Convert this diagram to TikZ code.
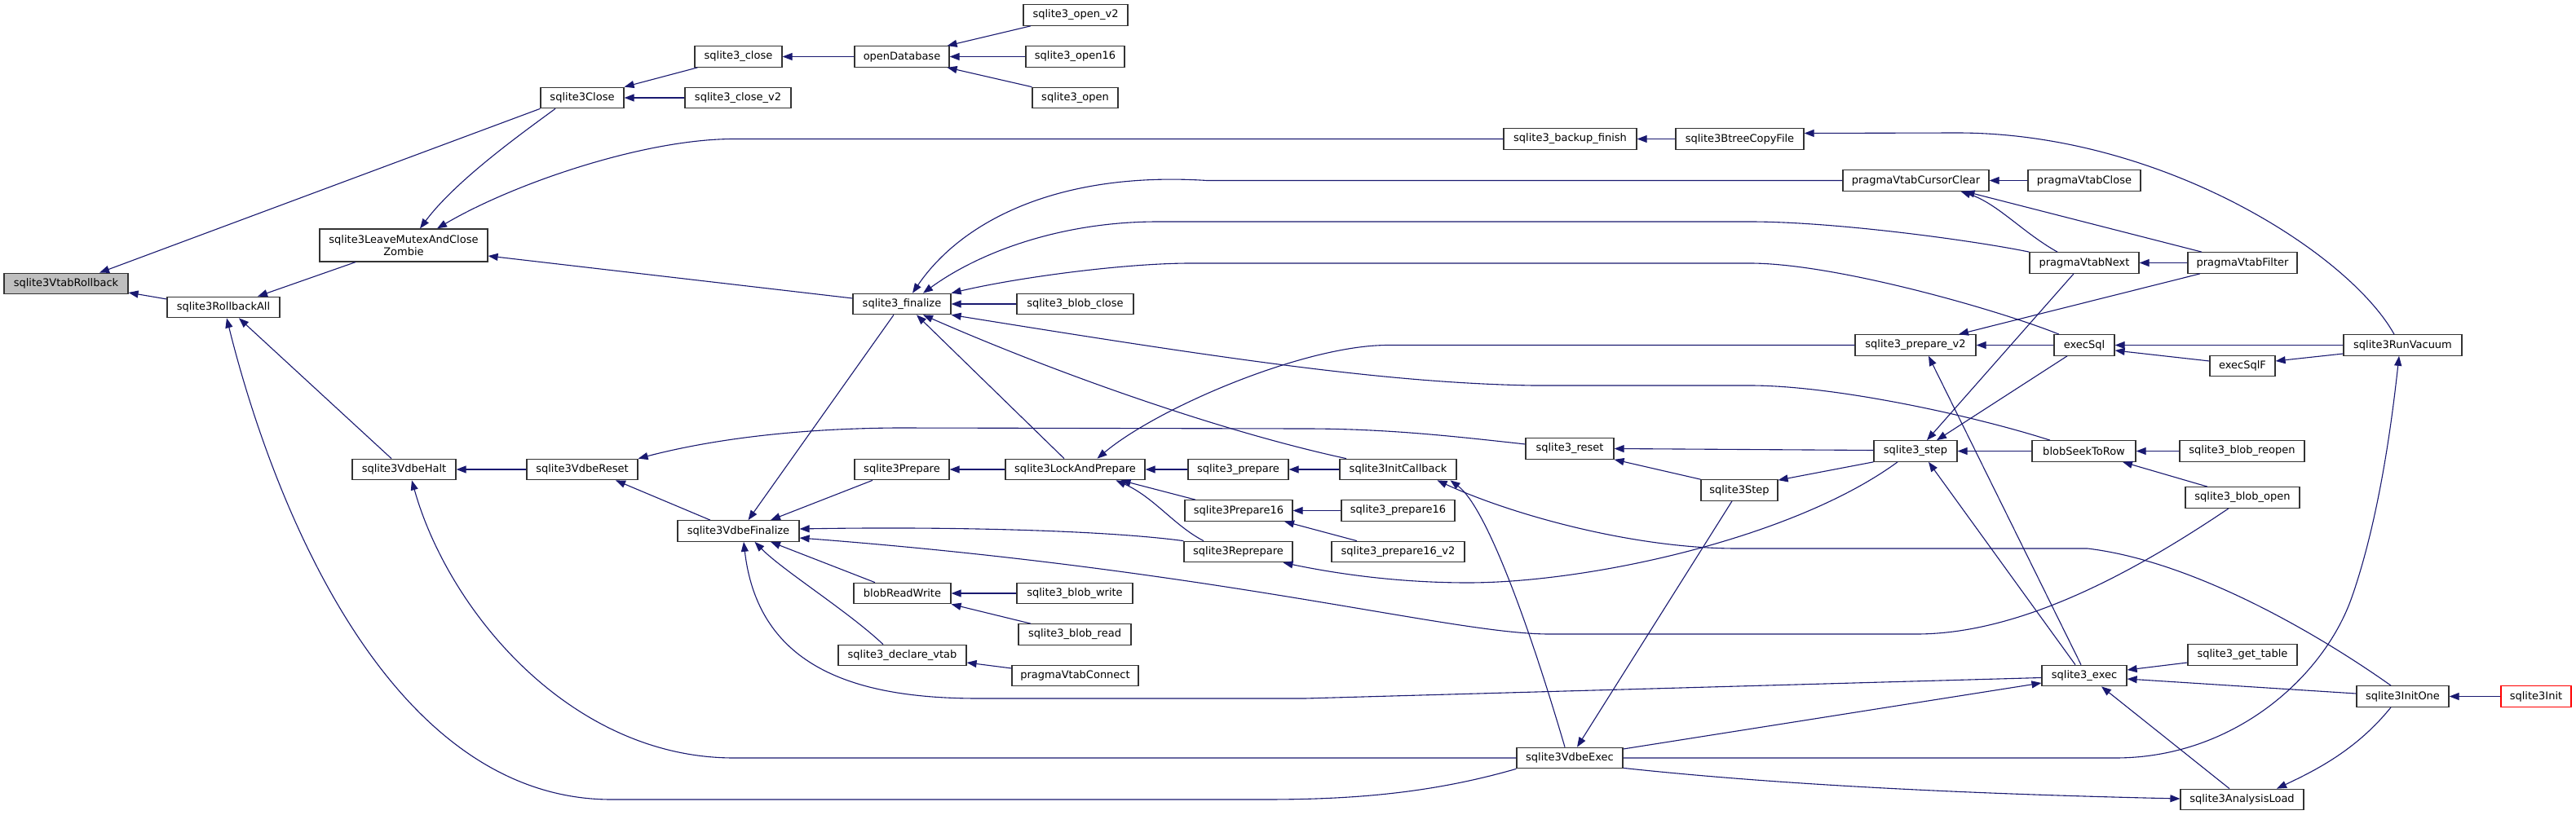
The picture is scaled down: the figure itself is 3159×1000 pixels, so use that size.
\documentclass[tikz,border=0pt]{standalone}
\usepackage{fontspec}
\setmainfont{DejaVu Sans}
\usetikzlibrary{arrows.meta}
\definecolor{edgeblue}{HTML}{191970}
\definecolor{nodegray}{HTML}{BFBFBF}
\begin{document}
\begin{tikzpicture}[x=1pt,y=-1pt,
  box/.style={draw=black!80, line width=1.2pt, fill=white, minimum height=25.5pt, inner sep=0pt, font=\fontsize{13}{14.5}\selectfont, align=center},
  edge/.style={draw=edgeblue, line width=1.1pt, -{Triangle[length=12pt,width=9pt]}}]
\useasboundingbox[fill=white] (0,0) rectangle (3159,1000);
% nodes
\node[box, minimum width=152pt, fill=nodegray] (VR) at (81,348) {sqlite3VtabRollback};
\node[box, minimum width=102pt] (CL) at (714,120) {sqlite3Close};
\node[box, minimum width=206pt, minimum height=40pt] (ZB) at (495,301) {sqlite3LeaveMutexAndClose\\Zombie};
\node[box, minimum width=138pt] (RA) at (274,377) {sqlite3RollbackAll};
\node[box, minimum width=127pt] (HT) at (495.5,576) {sqlite3VdbeHalt};
\node[box, minimum width=136pt] (RS) at (714,576) {sqlite3VdbeReset};
\node[box, minimum width=107pt] (SCL) at (905.5,69.5) {sqlite3\_close};
\node[box, minimum width=130pt] (SCV) at (905,120) {sqlite3\_close\_v2};
\node[box, minimum width=116pt] (OD) at (1106,69.5) {openDatabase};
\node[box, minimum width=128pt] (OV2) at (1319,18.5) {sqlite3\_open\_v2};
\node[box, minimum width=121pt] (O16) at (1318.5,69.5) {sqlite3\_open16};
\node[box, minimum width=105pt] (OP) at (1318.5,120) {sqlite3\_open};
\node[box, minimum width=120pt] (FN) at (1106,373) {sqlite3\_finalize};
\node[box, minimum width=143pt] (BC) at (1318.5,373) {sqlite3\_blob\_close};
\node[box, minimum width=149pt] (VF) at (905.5,651.5) {sqlite3VdbeFinalize};
\node[box, minimum width=116pt] (PR) at (1106,576) {sqlite3Prepare};
\node[box, minimum width=171pt] (LP) at (1318.5,576) {sqlite3LockAndPrepare};
\node[box, minimum width=123pt] (SP) at (1518.5,576) {sqlite3\_prepare};
\node[box, minimum width=132pt] (P16) at (1519,626.5) {sqlite3Prepare16};
\node[box, minimum width=133pt] (RP) at (1518.5,677) {sqlite3Reprepare};
\node[box, minimum width=119pt] (BRW) at (1106.5,728) {blobReadWrite};
\node[box, minimum width=142pt] (BW) at (1318,728) {sqlite3\_blob\_write};
\node[box, minimum width=138pt] (BRD) at (1318,778.5) {sqlite3\_blob\_read};
\node[box, minimum width=157pt] (DV) at (1106.5,804) {sqlite3\_declare\_vtab};
\node[box, minimum width=155pt] (PCN) at (1318.5,829) {pragmaVtabConnect};
\node[box, minimum width=163pt] (BF) at (1925.5,170.5) {sqlite3\_backup\_finish};
\node[box, minimum width=157pt] (BT) at (2133.5,170.5) {sqlite3BtreeCopyFile};
\node[box, minimum width=179pt] (CC) at (2349.5,221.5) {pragmaVtabCursorClear};
\node[box, minimum width=148pt] (PV2) at (2349,423.5) {sqlite3\_prepare\_v2};
\node[box, minimum width=108pt] (RST) at (1925,550.5) {sqlite3\_reset};
\node[box, minimum width=143pt] (IC) at (1714.5,576) {sqlite3InitCallback};
\node[box, minimum width=139pt] (SP16) at (1714.5,626.5) {sqlite3\_prepare16};
\node[box, minimum width=163pt] (SP16V) at (1714.5,677) {sqlite3\_prepare16\_v2};
\node[box, minimum width=94pt] (STP) at (2133,601.5) {sqlite3Step};
\node[box, minimum width=102pt] (ST) at (2349,553.5) {sqlite3\_step};
\node[box, minimum width=130pt] (VE) at (1925,930) {sqlite3VdbeExec};
\node[box, minimum width=138pt] (PCL) at (2556,221.5) {pragmaVtabClose};
\node[box, minimum width=134pt] (NX) at (2556,322.5) {pragmaVtabNext};
\node[box, minimum width=134pt] (FI) at (2750,322.5) {pragmaVtabFilter};
\node[box, minimum width=74pt] (ES) at (2556,423.5) {execSql};
\node[box, minimum width=80pt] (ESF) at (2750,449) {execSqlF};
\node[box, minimum width=145pt] (RV) at (2946.5,423.5) {sqlite3RunVacuum};
\node[box, minimum width=127pt] (BS) at (2555.5,553.5) {blobSeekToRow};
\node[box, minimum width=153pt] (BRO) at (2749.5,553.5) {sqlite3\_blob\_reopen};
\node[box, minimum width=140pt] (BO) at (2750,610.5) {sqlite3\_blob\_open};
\node[box, minimum width=134pt] (GT) at (2750,803.5) {sqlite3\_get\_table};
\node[box, minimum width=104pt] (EX) at (2556,829) {sqlite3\_exec};
\node[box, minimum width=113pt] (IO) at (2946.5,854.5) {sqlite3InitOne};
\node[box, minimum width=86pt, draw=red] (IN) at (3110,854.5) {sqlite3Init};
\node[box, minimum width=151pt] (AL) at (2749.5,981) {sqlite3AnalysisLoad};
% edges
\draw[edge] (CL.south west) -- ([xshift=41pt]VR.north);
\draw[edge] ([yshift=10pt]RA.west) -- ([yshift=-11pt]VR.east);
\draw[edge] ([xshift=-59pt]ZB.south) -- ([xshift=42pt]RA.north);
\draw[edge] ([xshift=-33pt]CL.south) .. controls (645,160) and (560,220) .. ([xshift=20pt]ZB.north);
\draw[edge] (BF.west) -- (900,170.5) .. controls (790,170.5) and (630,225) .. ([xshift=41pt]ZB.north);
\draw[edge] ([yshift=7pt]FN.west) -- ([yshift=-13pt]ZB.east);
\draw[edge] ([xshift=-50pt]SCL.south) -- (CL.north east);
\draw[edge] (SCV.west) -- (CL.east);
\draw[edge] (OD.west) -- (SCL.east);
\draw[edge] ([xshift=-55pt]OV2.south) -- ([xshift=-3pt]OD.north east);
\draw[edge] (O16.west) -- (OD.east);
\draw[edge] (OP.north west) -- ([xshift=-3pt]OD.south east);
\draw[edge] (BT.west) -- (BF.east);
\draw[edge] ([xshift=-10.5pt]RV.north) .. controls (2880,310) and (2650,163) .. (2400,163) -- ([yshift=7pt]BT.east);
\draw[edge] ([xshift=-15.5pt]HT.north) -- ([xshift=19pt]RA.south);
\draw[edge] (VE.south west) .. controls (1750,975) and (1650,981) .. (1550,981) -- (750,981) .. controls (470,981) and (330,600) .. ([xshift=4pt]RA.south);
\draw[edge] (RS.west) -- (HT.east);
\draw[edge] (VE.west) -- (900,930) .. controls (700,930) and (550,750) .. ([xshift=9.5pt]HT.south);
\draw[edge] ([xshift=-34.5pt]VF.north) -- ([xshift=41pt]RS.south);
\draw[edge] ([yshift=5.5pt]RST.west) .. controls (1780,535) and (1700,526) .. (1600,526) -- (1100,525) .. controls (950,526) and (850,545) .. (RS.north east);
\draw[edge] ([xshift=-10pt]FN.south) -- ([xshift=12pt]VF.north);
\draw[edge] ([xshift=-36pt]PR.south) -- ([xshift=39.5pt]VF.north);
\draw[edge] (LP.west) -- (PR.east);
\draw[edge] (SP.west) -- (LP.east);
\draw[edge] ([xshift=-53pt]P16.north) -- ([xshift=56pt]LP.south);
\draw[edge] ([xshift=-42.5pt]RP.north) .. controls (1440,645) and (1415,610) .. ([xshift=50pt]LP.south);
\draw[edge] (PV2.west) -- (1702,423.5) .. controls (1600,423.5) and (1420,500) .. ([xshift=27pt]LP.north);
\draw[edge] (IC.west) -- (SP.east);
\draw[edge] (SP16.west) -- (P16.east);
\draw[edge] ([xshift=-50.5pt]SP16V.north) -- ([xshift=56pt]P16.south);
\draw[edge] ([xshift=-22pt]ST.south) .. controls (2200,660) and (1950,715) .. (1800,715) .. controls (1700,715) and (1620,700) .. ([xshift=55pt]RP.south);
\draw[edge] (RP.north west) .. controls (1350,650) and (1150,646) .. ([yshift=2.5pt]VF.east);
\draw[edge] ([xshift=-17pt]BO.south) .. controls (2620,700) and (2480,778) .. (2350,778) -- (1900,778) .. controls (1780,778) and (1500,700) .. ([yshift=-8.5pt]VF.east);
\draw[edge] ([xshift=-33.5pt]BRW.north) -- ([xshift=39.5pt]VF.south);
\draw[edge] (BW.west) -- (BRW.east);
\draw[edge] ([xshift=-54pt]BRD.north) -- (BRW.south east);
\draw[edge] ([xshift=-23.5pt]DV.north) .. controls (1040,750) and (960,700) .. ([xshift=20pt]VF.south);
\draw[edge] ([yshift=9pt]PCN.west) -- ([yshift=-9pt]DV.east);
\draw[edge] ([yshift=-2.5pt]EX.west) -- (1600,857) -- (1200,857) .. controls (1050,857) and (930,820) .. ([xshift=6.5pt]VF.south);
\draw[edge] (CC.west) -- (1480,221.5) .. controls (1300,210) and (1180,270) .. ([xshift=13pt]FN.north);
\draw[edge] (NX.north west) .. controls (2420,295) and (2250,272) .. (2146,272) -- (1420,272) .. controls (1300,272) and (1200,310) .. ([xshift=26pt]FN.north);
\draw[edge] ([xshift=-31pt]ES.north) .. controls (2450,380) and (2250,323) .. (2146,323) -- (1460,323) .. controls (1380,323) and (1250,340) .. (FN.north east);
\draw[edge] (BC.west) -- (FN.east);
\draw[edge] ([xshift=-41.5pt]BS.north) .. controls (2420,510) and (2250,473) .. (2146,473) -- (1880,473) .. controls (1700,470) and (1500,440) .. (FN.south east);
\draw[edge] ([xshift=-13.5pt]LP.north) -- ([xshift=18pt]FN.south);
\draw[edge] ([xshift=-63.5pt]IC.north) .. controls (1500,530) and (1300,460) .. ([xshift=26pt]FN.south);
\draw[edge] (PCL.west) -- (CC.east);
\draw[edge] ([xshift=-33pt]NX.north) .. controls (2480,285) and (2450,250) .. ([xshift=55pt]CC.south);
\draw[edge] ([xshift=-50pt]FI.north) -- ([xshift=60pt]CC.south);
\draw[edge] (FI.west) -- (NX.east);
\draw[edge] ([xshift=-52pt]FI.south) -- ([xshift=53pt]PV2.north);
\draw[edge] ([xshift=-13pt]NX.south) -- ([xshift=14pt]ST.north);
\draw[edge] ([xshift=-21pt]ES.south) -- ([xshift=26pt]ST.north);
\draw[edge] (ES.west) -- (PV2.east);
\draw[edge] (RV.west) -- (ES.east);
\draw[edge] ([yshift=6pt]ESF.west) -- ([yshift=-6.5pt]ES.east);
\draw[edge] ([yshift=-10.5pt]RV.west) -- ([yshift=6pt]ESF.east);
\draw[edge] ([xshift=-4pt]EX.north) -- ([xshift=16pt]PV2.south);
\draw[edge] ([xshift=-11pt]EX.north) -- ([xshift=16pt]ST.south);
\draw[edge] ([yshift=-9.5pt]GT.west) -- ([yshift=7pt]EX.east);
\draw[edge] ([yshift=3.5pt]IO.west) -- ([yshift=-4pt]EX.east);
\draw[edge] ([xshift=-15.5pt]AL.north) -- ([xshift=21pt]EX.south);
\draw[edge] ([xshift=-14.5pt]IO.south) .. controls (2890,920) and (2840,945) .. ([xshift=42.5pt]AL.north);
\draw[edge] (IN.west) -- (IO.east);
\draw[edge] ([yshift=1pt]VE.south east) .. controls (2200,965) and (2450,975) .. ([yshift=1pt]AL.west);
\draw[edge] (VE.east) -- (2594,930) .. controls (2740,930) and (2850,830) .. (2884,733) .. controls (2920,630) and (2935,500) .. ([xshift=-4.5pt]RV.south);
\draw[edge] ([yshift=11pt]VE.east) -- ([yshift=-9pt]EX.west);
\draw[edge] ([xshift=-6pt]VE.north) .. controls (1870,750) and (1820,620) .. ([xshift=64pt]IC.south);
\draw[edge] ([xshift=-14.5pt]IO.north) .. controls (2860,790) and (2700,690) .. (2560,673) -- (2130,673) .. controls (2000,673) and (1850,630) .. ([xshift=48pt]IC.south);
\draw[edge] ([yshift=1pt]ST.west) -- (RST.east);
\draw[edge] (ST.south west) -- ([yshift=-1pt]STP.north east);
\draw[edge] (STP.north west) -- (RST.south east);
\draw[edge] ([xshift=-9pt]STP.south) -- ([xshift=9pt]VE.north);
\draw[edge] (BS.west) -- (ST.east);
\draw[edge] (BRO.west) -- (BS.east);
\draw[edge] ([xshift=-43pt]BO.north) -- ([xshift=47.5pt]BS.south);
\end{tikzpicture}
\end{document}
